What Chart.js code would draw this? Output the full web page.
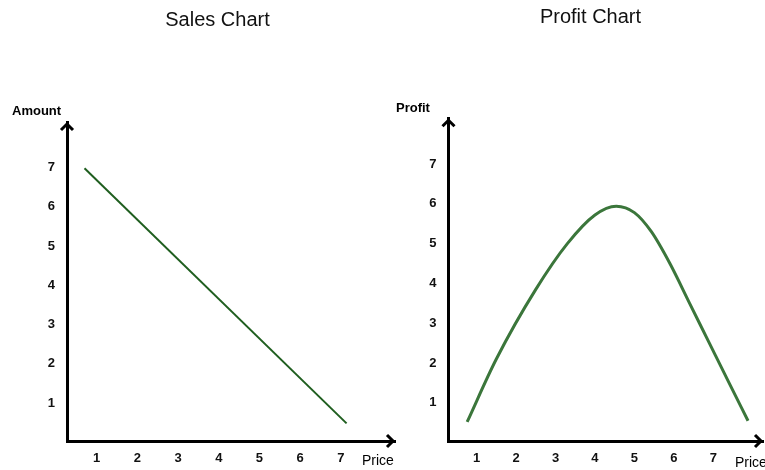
<!DOCTYPE html>
<html>
<head>
<meta charset="utf-8">
<script src="https://cdn.jsdelivr.net/npm/chart.js@4.4.1/dist/chart.umd.min.js"></script>
<style>
  html, body { margin: 0; padding: 0; background: #fff; }
  body { width: 765px; height: 470px; position: relative; overflow: hidden; }
  canvas { position: absolute; top: 0; }
  #salesChart { left: 0; }
  #profitChart { left: 380px; }
</style>
</head>
<body>
<canvas id="salesChart" width="400" height="470"></canvas>
<canvas id="profitChart" width="385" height="470"></canvas>
<script>
/* ========= DATA ========= */

const priceTicks = [1, 2, 3, 4, 5, 6, 7];
const valueTicks = [1, 2, 3, 4, 5, 6, 7];

// Sales: straight line falling from top-left to bottom-right
const salesPrice = [0.70, 7.14];
const salesAmount = [6.98, 0.48];

// Profit: hump that peaks near price 4.5
const profitPrice = [0.76, 1.50, 2.50, 3.30, 4.00, 4.54, 5.00, 5.43, 5.90, 6.40, 6.90, 7.40, 7.88];
const profitValue = [0.52, 2.10, 3.85, 5.00, 5.72, 5.94, 5.78, 5.30, 4.50, 3.50, 2.50, 1.50, 0.55];

const FONT = "'Liberation Sans', Arial, sans-serif";

/* ========= AXIS ARROWS + AXIS NAMES ========= */

const axisArrows = {
  id: "axisArrows",
  afterDraw(chart, args, opts) {
    const { ctx, chartArea: a } = chart;
    ctx.save();
    ctx.strokeStyle = "#000";
    ctx.lineWidth = 3;
    ctx.lineJoin = "miter";

    ctx.beginPath();
    ctx.moveTo(a.left - 6, a.top + 8);
    ctx.lineTo(a.left, a.top + 2);
    ctx.lineTo(a.left + 6, a.top + 8);
    ctx.stroke();

    ctx.beginPath();
    ctx.moveTo(a.right - 8, a.bottom - 6);
    ctx.lineTo(a.right - 2, a.bottom);
    ctx.lineTo(a.right - 8, a.bottom + 6);
    ctx.stroke();

    ctx.fillStyle = "#000";
    ctx.textBaseline = "middle";
    ctx.textAlign = "left";
    ctx.font = "bold 13px " + FONT;
    ctx.fillText(opts.yName, opts.yNameX, opts.yNameY);
    ctx.font = "14px " + FONT;
    ctx.fillText(opts.xName, opts.xNameX, opts.xNameY);
    ctx.restore();
  }
};

function toPoints(xs, ys) {
  return xs.map((x, i) => ({ x: x, y: ys[i] }));
}

function makeScales(s) {
  return {
    x: {
      type: "linear",
      min: s.xMin,
      max: s.xMax,
      grid: { display: false, drawTicks: false },
      border: { display: true, color: "#000", width: 3 },
      ticks: { padding: 10, color: "#111", font: { family: FONT, size: 13, weight: "bold" } },
      afterBuildTicks: (scale) => { scale.ticks = priceTicks.map(v => ({ value: v })); },
      afterFit: (scale) => { scale.height = 29; }
    },
    y: {
      type: "linear",
      min: s.yMin,
      max: s.yMax,
      grid: { display: false, drawTicks: false },
      border: { display: true, color: "#000", width: 3 },
      ticks: { padding: 12, color: "#111", font: { family: FONT, size: 13, weight: "bold" } },
      afterBuildTicks: (scale) => { scale.ticks = valueTicks.map(v => ({ value: v })); },
      afterFit: (scale) => { scale.width = s.yWidth; }
    }
  };
}

/* ========= SALES CHART ========= */

new Chart(document.getElementById("salesChart"), {
  type: "line",
  data: {
    datasets: [{
      label: "Amount",
      data: toPoints(salesPrice, salesAmount),
      borderColor: "#1f5e1f",
      borderWidth: 2,
      pointRadius: 0,
      fill: false
    }]
  },
  options: {
    responsive: false,
    animation: false,
    devicePixelRatio: 1,
    layout: { padding: { left: 40, right: 5, top: 0, bottom: 0 } },
    plugins: {
      legend: { display: false },
      tooltip: { enabled: false },
      title: {
        display: true,
        text: "Sales Chart",
        color: "#111",
        font: { family: FONT, size: 20, weight: "normal", lineHeight: 1.2 },
        padding: { top: 8.5, bottom: 89.5 }
      },
      axisArrows: { yName: "Amount", yNameX: 12, yNameY: 111, xName: "Price", xNameX: 362, xNameY: 461 }
    },
    scales: makeScales({ xMin: 0.27, xMax: 8.33, yMin: 0.03, yMax: 8.16, yWidth: 27 })
  },
  plugins: [axisArrows]
});

/* ========= PROFIT CHART ========= */

new Chart(document.getElementById("profitChart"), {
  type: "line",
  data: {
    datasets: [{
      label: "Profit",
      data: toPoints(profitPrice, profitValue),
      borderColor: "#3b763b",
      borderWidth: 3,
      pointRadius: 0,
      cubicInterpolationMode: "monotone",
      fill: false
    }, {
      label: "Profit highlight",
      data: toPoints(profitPrice, profitValue),
      borderColor: "#8fbf8f",
      borderWidth: 1,
      pointRadius: 0,
      cubicInterpolationMode: "monotone",
      fill: false
    }]
  },
  options: {
    responsive: false,
    animation: false,
    devicePixelRatio: 1,
    layout: { padding: { left: 38, right: 2, top: 0, bottom: 0 } },
    plugins: {
      legend: { display: false },
      tooltip: { enabled: false },
      title: {
        display: true,
        text: "Profit Chart",
        color: "#111",
        font: { family: FONT, size: 20, weight: "normal", lineHeight: 1.2 },
        padding: { top: 5, bottom: 89.3 }
      },
      axisArrows: { yName: "Profit", yNameX: 16, yNameY: 108, xName: "Price", xNameX: 355, xNameY: 463 }
    },
    scales: makeScales({ xMin: 0.287, xMax: 8.26, yMin: 0.04, yMax: 8.15, yWidth: 30.5 })
  },
  plugins: [axisArrows]
});
</script>
</body>
</html>
